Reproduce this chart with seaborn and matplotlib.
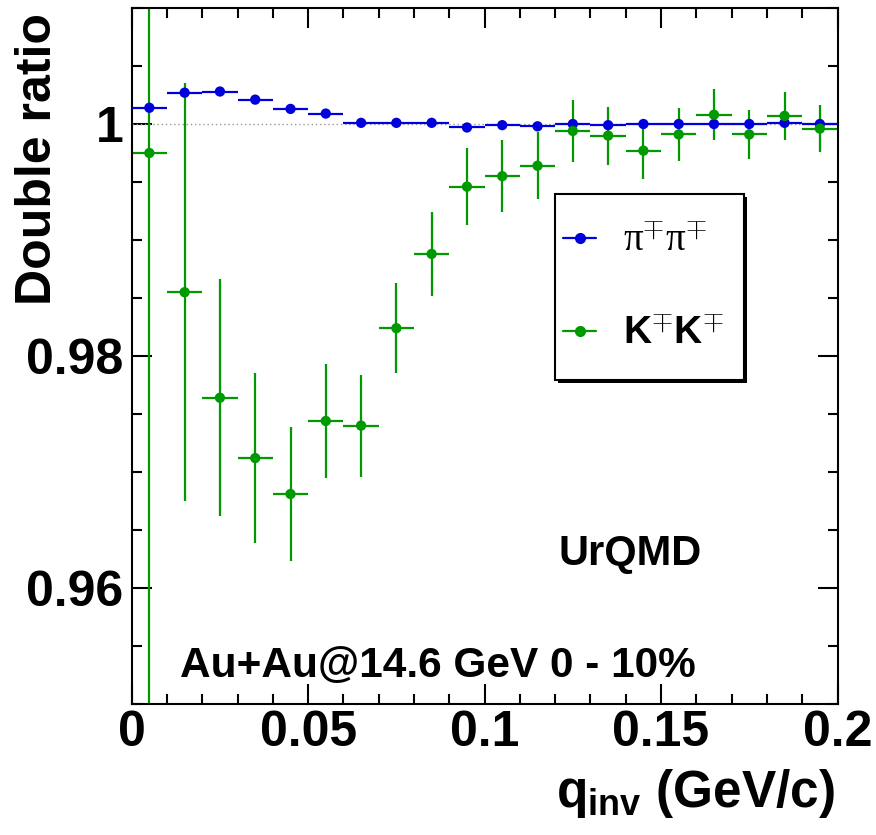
import matplotlib
matplotlib.use("Agg")
import matplotlib.pyplot as plt
from matplotlib.lines import Line2D
from matplotlib.patches import Rectangle
from matplotlib.ticker import MultipleLocator, FuncFormatter
import seaborn as sns
import pandas as pd

q_inv = [0.005, 0.015, 0.025, 0.035, 0.045, 0.055, 0.065, 0.075, 0.085, 0.095,
         0.105, 0.115, 0.125, 0.135, 0.145, 0.155, 0.165, 0.175, 0.185, 0.195]
q_halfwidth = [0.005] * 20

pion = [1.0014, 1.0027, 1.0028, 1.0021, 1.0013, 1.0009, 1.0001, 1.0001, 1.0001, 0.9997,
        0.9999, 0.9998, 1.0000, 0.9999, 1.0000, 1.0000, 1.0000, 1.0000, 1.0001, 1.0000]
pion_err = [0.0001] * 20

kaon = [0.9975, 0.9855, 0.9764, 0.9712, 0.9681, 0.9744, 0.9740, 0.9824, 0.9888, 0.9946,
        0.9955, 0.9964, 0.9994, 0.9990, 0.9977, 0.9991, 1.0008, 0.9991, 1.0007, 0.9996]
kaon_err = [0.08, 0.0180, 0.0102, 0.0073, 0.0058, 0.0049, 0.0044, 0.0039, 0.0036, 0.0033,
            0.0031, 0.0029, 0.0027, 0.0025, 0.0024, 0.0023, 0.0022, 0.0021, 0.0021, 0.0020]

labels = [r"π$^{\mp}$π$^{\mp}$", r"$\mathbf{K^{\mp}K^{\mp}}$"]
colors = ["#0000dd", "#009a00"]

sns.set_style("ticks")
plt.rcParams["font.family"] = ["Liberation Sans", "DejaVu Sans"]
plt.rcParams["font.weight"] = "bold"
plt.rcParams["mathtext.fontset"] = "custom"
plt.rcParams["mathtext.rm"] = "Liberation Sans"
plt.rcParams["mathtext.bf"] = "Liberation Sans:bold"
plt.rcParams["mathtext.it"] = "Liberation Sans:italic"
for k in ["text.color", "axes.labelcolor", "xtick.color", "ytick.color", "axes.edgecolor"]:
    plt.rcParams[k] = "black"

df = pd.DataFrame({
    "q": q_inv * 2,
    "ratio": pion + kaon,
    "pair": ["pi"] * 20 + ["K"] * 20,
})

W, H = 876, 835
fig = plt.figure(figsize=(W / 100, H / 100), dpi=100)
L, R, B, T = 131.7, 837.5, 704, 8
ax = fig.add_axes([L / W, 1 - B / H, (R - L) / W, (B - T) / H])

ax.axhline(1.0, color="#999999", lw=1.0, ls=(0, (1, 2)), zorder=1)

ax.errorbar(q_inv, kaon, xerr=q_halfwidth, yerr=kaon_err, fmt="none",
            ecolor=colors[1], elinewidth=1.6, capsize=0, zorder=2)
ax.errorbar(q_inv, pion, xerr=q_halfwidth, yerr=pion_err, fmt="none",
            ecolor=colors[0], elinewidth=1.6, capsize=0, zorder=4)
sns.scatterplot(data=df, x="q", y="ratio", hue="pair", hue_order=["K", "pi"],
                palette={"pi": colors[0], "K": colors[1]}, s=55,
                edgecolor="none", legend=False, ax=ax, zorder=5)

ax.set_xlim(0, 0.2)
ax.set_ylim(0.95, 1.01)

ax.xaxis.set_major_locator(MultipleLocator(0.05))
ax.xaxis.set_minor_locator(MultipleLocator(0.01))
ax.yaxis.set_major_locator(MultipleLocator(0.02))
ax.yaxis.set_minor_locator(MultipleLocator(0.005))
fmt = FuncFormatter(lambda v, p: "%g" % round(v, 4))
ax.xaxis.set_major_formatter(fmt)
ax.yaxis.set_major_formatter(fmt)

ax.tick_params(which="both", direction="in", top=True, right=True, width=1.5,
               labelsize=36)
ax.tick_params(which="major", length=14.4)
ax.tick_params(which="minor", length=7.2)
ax.tick_params(axis="x", pad=4)
ax.tick_params(axis="y", pad=6)
for lab in ax.get_xticklabels() + ax.get_yticklabels():
    lab.set_fontweight("bold")
for sp in ax.spines.values():
    sp.set_linewidth(1.5)
    sp.set_visible(True)

ax.set_ylabel("Double ratio", fontsize=36, fontweight="bold", loc="top")
ax.yaxis.set_label_coords(-0.10, 0.993)
ax.set_xlabel(r"$\mathbf{q_{inv}}$ (GeV/c)", fontsize=37, fontweight="bold", loc="right")
ax.xaxis.set_label_coords(0.997, -0.090)

ax.text(0.604, 0.1997, "UrQMD", transform=ax.transAxes, fontsize=30,
        fontweight="bold", va="baseline", ha="left")
ax.text(0.068, 0.039, "Au+Au@14.6 GeV 0 - 10%", transform=ax.transAxes,
        fontsize=30.5, fontweight="bold", va="baseline", ha="left")

# legend frame (with shadow), in figure pixels converted to axes coordinates
def to_ax(px, py):
    return (px - L) / (R - L), (B - py) / (B - T)

bx0, by0 = to_ax(555, 380)
bx1, by1 = to_ax(744, 194)
sx0, sy0 = to_ax(558, 383)
ax.add_patch(Rectangle((sx0, sy0), bx1 - bx0, by1 - by0, transform=ax.transAxes,
                       facecolor="black", edgecolor="none", clip_on=False, zorder=8))
ax.add_patch(Rectangle((bx0, by0), bx1 - bx0, by1 - by0, transform=ax.transAxes,
                       facecolor="white", edgecolor="black", lw=1.5, clip_on=False, zorder=9))

handles = [Line2D([], [], color=c, marker="o", markersize=7, lw=1.6) for c in colors]
lx, ly = to_ax(563, 288)
leg = ax.legend(handles, labels, loc="center left", bbox_to_anchor=(lx, ly),
                fontsize=28, frameon=False, handlelength=0.85, borderpad=0,
                borderaxespad=0, labelspacing=1.45, handletextpad=0.7)
leg.set_zorder(10)
t0 = leg.get_texts()[0]
t0.set_fontfamily("Liberation Serif")
t0.set_fontweight("normal")

fig.savefig("out.png", dpi=100)
